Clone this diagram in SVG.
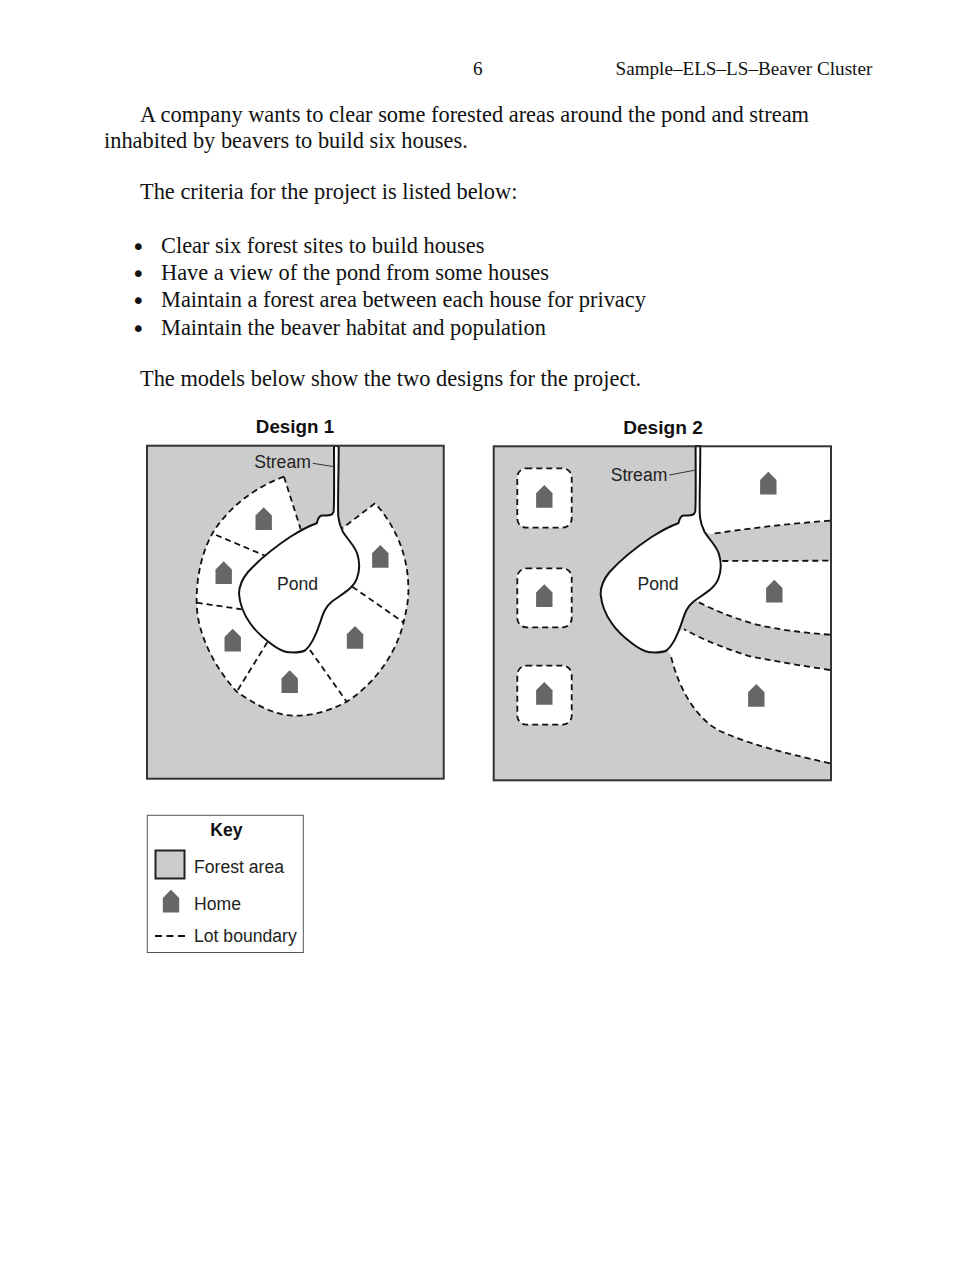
<svg xmlns="http://www.w3.org/2000/svg" width="979" height="1266" viewBox="0 0 979 1266">
<style>
.b{font-family:"Liberation Serif","Times New Roman",serif;font-size:22.4px;fill:#111}
.t{font-family:"Liberation Serif","Times New Roman",serif;font-size:19.15px;fill:#111}
.dot{font-family:"DejaVu Sans",sans-serif;font-size:23px;fill:#111}
.l{font-family:"Liberation Sans",Arial,sans-serif;font-size:17.6px;fill:#222}
.h{font-family:"Liberation Sans",Arial,sans-serif;font-size:18.8px;font-weight:700;fill:#111}
.frame{fill:none;stroke:#333;stroke-width:2}
.forest{fill:#ccc}
.lot{fill:#fff}
.dash{fill:none;stroke:#111;stroke-width:1.8;stroke-dasharray:6 4}
.pond{fill:#fff;stroke:#111;stroke-width:2;stroke-linejoin:round}
.lead{fill:none;stroke:#333;stroke-width:1}
.home{fill:#666}
</style>
<defs>
<path id="house" d="M0 0L8.2 8.2V22.7H-8.2V8.2Z"/>
<path id="pondShape" d="M316.7 523.3C318 520 318 516 322 515.5C326 515 332 517 333.5 512C334.5 508 334 480 334 446L338.7 446C338.7 480 337.5 505 338.3 516.7C339 524 341 528 343 532C348 540 354 545 357 553C360 562 360 570 357 578C354 588 342 594 332 601.5C325 607 323 614 320 623C317 632 312 645 305 650.5C300 653 295 652.5 288 652.3C280 651 275 647 270 643C262 637 256 632 250 623C245 616 240 605 239 594C239 585 243 578 248 572C258 561 272 549 290 537C298 532 306 527 316.7 523.3Z"/>
</defs>
<rect width="979" height="1266" fill="#fff"/>
<g id="page-text">
<text class="t" x="473" y="75">6</text>
<text class="t" x="615.5" y="75">Sample–ELS–LS–Beaver Cluster</text>
<text class="b" x="140" y="122">A company wants to clear some forested areas around the pond and stream</text>
<text class="b" x="104" y="148">inhabited by beavers to build six houses.</text>
<text class="b" x="140" y="199">The criteria for the project is listed below:</text>
<text class="dot" x="131.5" y="254.5">•</text><text class="b" x="161" y="253">Clear six forest sites to build houses</text>
<text class="dot" x="131.5" y="281.5">•</text><text class="b" x="161" y="280">Have a view of the pond from some houses</text>
<text class="dot" x="131.5" y="308.5">•</text><text class="b" x="161" y="307">Maintain a forest area between each house for privacy</text>
<text class="dot" x="131.5" y="336.5">•</text><text class="b" x="161" y="335">Maintain the beaver habitat and population</text>
<text class="b" x="140" y="386">The models below show the two designs for the project.</text>
</g>
<g id="design-1">
<text class="h" x="295" y="433" text-anchor="middle">Design 1</text>
<rect class="forest" x="147" y="445.7" width="296.7" height="333"/>
<path class="lot" d="M284 476.7C258 486 234 503 216.7 526.7C203 546 196 576 196.7 603.3C197 634 215 668 236.7 691.7C252 702 272 715 293.3 715.7C312 716 330 711 346.7 701.7C372 686 396 655 403.3 623.3C406 612 409 600 408.3 586.7C408 555 395 525 375 503.3L342.3 528.3L300.7 529.3Z"/>
<use href="#pondShape" class="pond"/>
<use href="#house" class="home" x="263.7" y="507.3"/>
<use href="#house" class="home" x="223.7" y="561.3"/>
<use href="#house" class="home" x="232.7" y="628.7"/>
<use href="#house" class="home" x="289.7" y="670.3"/>
<use href="#house" class="home" x="355" y="626"/>
<use href="#house" class="home" x="380.3" y="545"/>
<text class="l" x="282.5" y="468" text-anchor="middle">Stream</text>
<text class="l" x="297.5" y="590" text-anchor="middle">Pond</text>
<rect class="frame" x="147" y="445.7" width="296.7" height="333"/>
</g>
<g id="design-2">
<text class="h" x="663" y="433.5" text-anchor="middle" style="font-size:19.1px">Design 2</text>
<rect class="forest" x="493.7" y="446.3" width="337.3" height="334"/>
<rect class="lot" x="517.3" y="468.3" width="54.4" height="59.4" rx="9"/>
<rect class="lot" x="517.3" y="568.3" width="54.4" height="59" rx="9"/>
<rect class="lot" x="517.3" y="665.7" width="54.4" height="59" rx="9"/>
<path class="lot" d="M698 446.3H831V520.7Q770 525 711 534L698 530Z"/>
<path class="lot" d="M715 561L831 560.7V634.7Q790 632 758.3 625Q725 616 695.7 600.7Z"/>
<path class="lot" d="M670.7 655L660 640L684 629.3Q715 646 751.7 656.7Q790 664 831 670V763.3C780 752 745 743 718 730C700 720 680 695 670.7 655Z"/>
<use href="#pondShape" class="pond" x="361.6"/>
<use href="#house" class="home" x="544.3" y="485"/>
<use href="#house" class="home" x="544.3" y="584.3"/>
<use href="#house" class="home" x="544.3" y="682"/>
<use href="#house" class="home" x="768.3" y="471.7"/>
<use href="#house" class="home" x="774.3" y="579.7"/>
<use href="#house" class="home" x="756.3" y="684"/>
<text class="l" x="639" y="481" text-anchor="middle">Stream</text>
<text class="l" x="658" y="590" text-anchor="middle">Pond</text>
<rect class="frame" x="493.7" y="446.3" width="337.3" height="334"/>
</g>
<g id="connectors">
<path class="lead" d="M312.7 463.3L334.3 466.7"/>
<path class="lead" d="M669.3 475L696 470"/>
<path class="dash" d="M284 476.7C258 486 234 503 216.7 526.7C203 546 196 576 196.7 603.3C197 634 215 668 236.7 691.7C252 702 272 715 293.3 715.7C312 716 330 711 346.7 701.7C372 686 396 655 403.3 623.3C406 612 409 600 408.3 586.7C408 555 395 525 375 503.3"/>
<path class="dash" d="M284 476.7L300.7 529.3M375 503.3L342.3 528.3M216 535L265 555.7M196.7 602.7L241.7 609.3M267.3 642.3L236.7 691.7M310 650L346.7 701.7M352.3 586.7L404 622.7"/>
<rect class="dash" x="517.3" y="468.3" width="54.4" height="59.4" rx="9"/>
<rect class="dash" x="517.3" y="568.3" width="54.4" height="59" rx="9"/>
<rect class="dash" x="517.3" y="665.7" width="54.4" height="59" rx="9"/>
<path class="dash" d="M830 520.7Q770 525 711 534M722.3 561L830 560.7M830 634.7Q790 632 758.3 625Q725 616 695.7 600.7M830 670Q790 664 751.7 656.7Q715 646 684 629.3M830 763.3C780 752 745 743 718 730C700 720 680 695 670.7 655"/>
</g>
<g id="key">
<rect x="147.3" y="815.3" width="156" height="137.2" fill="#fff" stroke="#555" stroke-width="1"/>
<text class="h" x="226.5" y="836" text-anchor="middle" style="font-size:17.6px">Key</text>
<rect class="forest" x="155.5" y="850.5" width="29" height="28" stroke="#222" stroke-width="2"/>
<use href="#house" class="home" x="171" y="889.7"/>
<path d="M155 936H185" fill="none" stroke="#111" stroke-width="1.8" stroke-dasharray="7 4.5"/>
<text class="l" x="194" y="873">Forest area</text>
<text class="l" x="194" y="910">Home</text>
<text class="l" x="194" y="942">Lot boundary</text>
</g>
</svg>
